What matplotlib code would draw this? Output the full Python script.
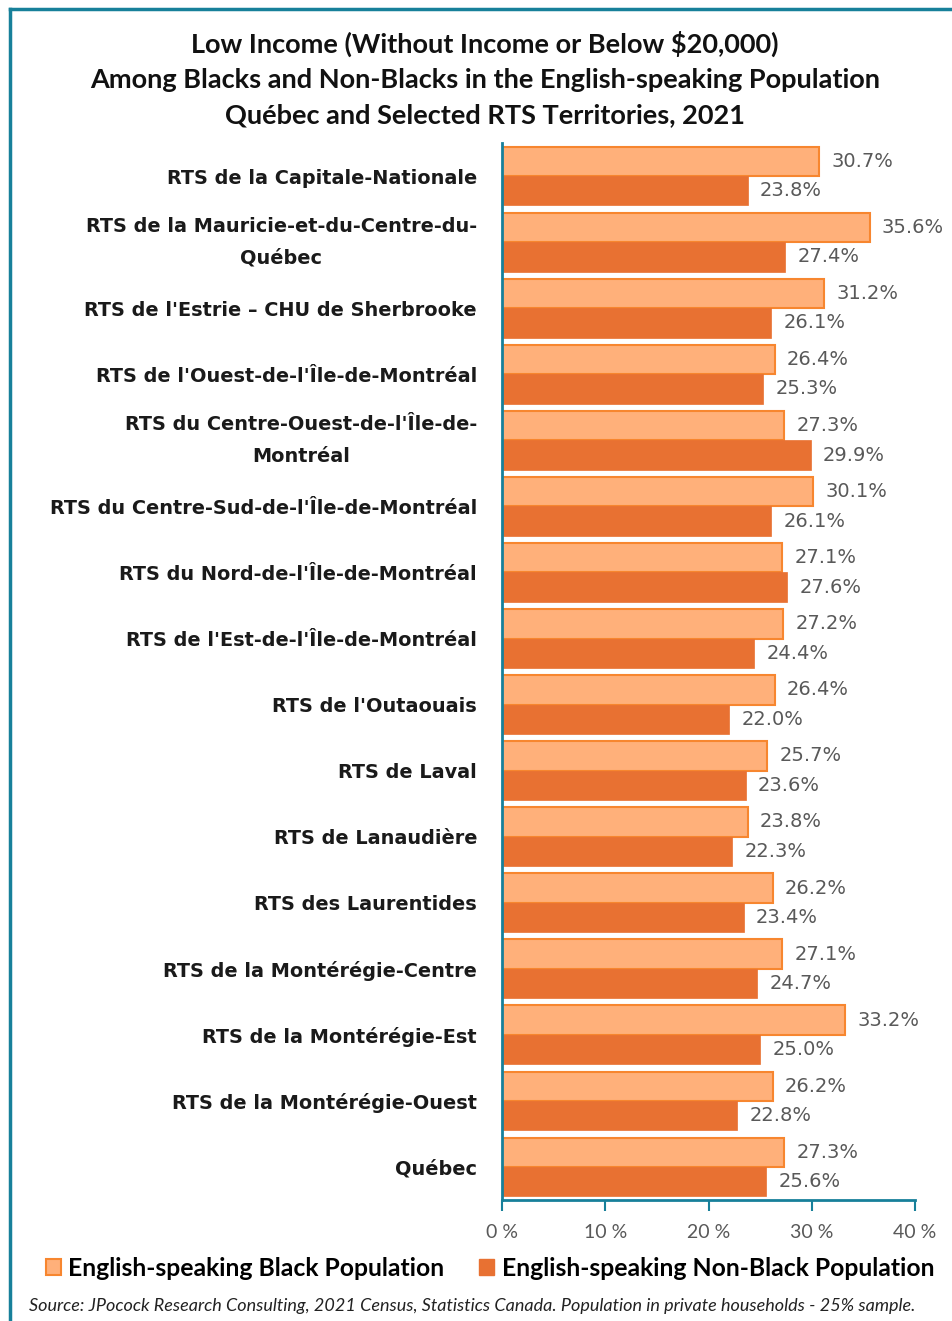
import matplotlib.pyplot as plt
from matplotlib.patches import Patch
from matplotlib.lines import Line2D
import numpy as np

# Values (percent in low income)
categories = [
    "RTS de la Capitale-Nationale",
    "RTS de la Mauricie-et-du-Centre-du-\nQuébec",
    "RTS de l'Estrie – CHU de Sherbrooke",
    "RTS de l'Ouest-de-l'Île-de-Montréal",
    "RTS du Centre-Ouest-de-l'Île-de-\nMontréal",
    "RTS du Centre-Sud-de-l'Île-de-Montréal",
    "RTS du Nord-de-l'Île-de-Montréal",
    "RTS de l'Est-de-l'Île-de-Montréal",
    "RTS de l'Outaouais",
    "RTS de Laval",
    "RTS de Lanaudière",
    "RTS des Laurentides",
    "RTS de la Montérégie-Centre",
    "RTS de la Montérégie-Est",
    "RTS de la Montérégie-Ouest",
    "Québec",
]
black_pop = [30.7, 35.6, 31.2, 26.4, 27.3, 30.1, 27.1, 27.2,
             26.4, 25.7, 23.8, 26.2, 27.1, 33.2, 26.2, 27.3]
nonblack_pop = [23.8, 27.4, 26.1, 25.3, 29.9, 26.1, 27.6, 24.4,
                22.0, 23.6, 22.3, 23.4, 24.7, 25.0, 22.8, 25.6]
xticks = [0, 10, 20, 30, 40]
series_names = ["English-speaking Black Population",
                "English-speaking Non-Black Population"]

TEAL = '#17809A'
LIGHT = '#FFB07A'
LIGHT_EDGE = '#F7862F'
DARK = '#E87132'
GREY = '#595959'
NARROW = ['Lato', 'DejaVu Sans']

fig = plt.figure(figsize=(9.53, 13.21), dpi=100)
ax = fig.add_axes([0.5268, 0.0916, 0.4333, 0.8001])

n = len(categories)
y = np.arange(n)
h = 0.445
ax.barh(y - h / 2, black_pop, height=h, color=LIGHT, edgecolor=LIGHT_EDGE, linewidth=1.5)
ax.barh(y + h / 2, nonblack_pop, height=h, color=DARK, edgecolor=DARK, linewidth=0.5)

for i in range(n):
    ax.text(black_pop[i] + 1.2, y[i] - h / 2, f"{black_pop[i]:.1f}%", va='center',
            ha='left', fontsize=14, color=GREY)
    ax.text(nonblack_pop[i] + 1.2, y[i] + h / 2, f"{nonblack_pop[i]:.1f}%", va='center',
            ha='left', fontsize=14, color=GREY)

ax.set_ylim(n - 0.5, -0.5)
ax.set_xlim(0, 40)
ax.set_yticks(y)
ax.set_yticklabels(categories, fontsize=13.9, fontweight='bold', color='#1a1a1a',
                   linespacing=1.85)
for lab in ax.get_yticklabels():
    lab.set_multialignment('center')
    if '\n' in lab.get_text():
        lab.set_verticalalignment('center')
ax.tick_params(axis='y', length=0, pad=18)
ax.set_xticks(xticks)
ax.set_xticklabels([f"{t} %" for t in xticks], fontsize=14, color=GREY, family=NARROW)
ax.tick_params(axis='x', length=8, width=1.5, color=TEAL, pad=9)

for s in ['top', 'right']:
    ax.spines[s].set_visible(False)
for s in ['left', 'bottom']:
    ax.spines[s].set_color(TEAL)
    ax.spines[s].set_linewidth(2)

fig.text(485 / 953, 1 - 79 / 1321,
         "Low Income (Without Income or Below $20,000)\n"
         "Among Blacks and Non-Blacks in the English-speaking Population\n"
         "Québec and Selected RTS Territories, 2021",
         ha='center', va='center', fontsize=19.5, fontweight='bold',
         family=NARROW, linespacing=1.55, color='#111111')

handles = [Patch(facecolor=LIGHT, edgecolor=LIGHT_EDGE, linewidth=1.5),
           Patch(facecolor=DARK, edgecolor=DARK)]
fig.legend(handles, series_names, loc='center', bbox_to_anchor=(490 / 953, 1 - 1268 / 1321),
           ncol=2, frameon=False, prop={'family': NARROW, 'weight': 'bold', 'size': 17.8},
           handlelength=0.62, handleheight=0.62, handletextpad=0.3, columnspacing=1.4)

fig.text(472 / 953, 1 - 1306 / 1321,
         "Source: JPocock Research Consulting, 2021 Census, Statistics Canada. "
         "Population in private households - 25% sample.",
         ha='center', va='center', fontsize=13, style='italic', family=NARROW,
         color='#222222')

# outer frame (top and left edges visible)
fig.add_artist(Line2D([10 / 953, 1], [1 - 9 / 1321, 1 - 9 / 1321],
                      transform=fig.transFigure, color=TEAL, linewidth=2.5))
fig.add_artist(Line2D([10 / 953, 10 / 953], [0, 1 - 9 / 1321],
                      transform=fig.transFigure, color=TEAL, linewidth=2.5))

fig.savefig('out.png', dpi=100)
